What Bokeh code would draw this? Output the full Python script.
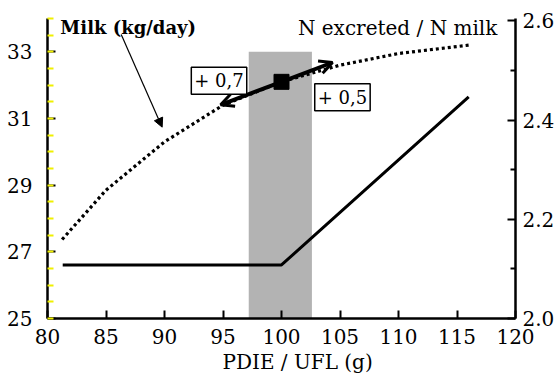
from bokeh.plotting import figure
from bokeh.models import (Range1d, LinearAxis, FixedTicker, Label, Arrow,
                          OpenHead, NormalHead, NumeralTickFormatter, Title)
from bokeh.embed import file_html
from bokeh.resources import INLINE

# ---- data ----
pdie_milk = [81.25, 85, 90, 95, 100, 105, 110, 116]
milk_kg = [27.37, 28.85, 30.3, 31.4, 32.1, 32.6, 32.95, 33.2]

pdie_n = [81.3, 100, 116]
n_ratio = [2.108, 2.108, 2.447]

band_left = [97.2]
band_right = [102.6]
band_bottom = [25]
band_top = [33]

point_x = [100]
point_y = [32.1]

x_ticks = [80, 85, 90, 95, 100, 105, 110, 115, 120]
left_ticks = [25, 27, 29, 31, 33]
left_minor = [25, 25.5, 26, 26.5, 27, 27.5, 28, 28.5, 29, 29.5, 30, 30.5, 31,
              31.5, 32, 32.5, 33, 33.5, 34]
right_ticks = [2.0, 2.2, 2.4, 2.6]
right_minor = [2.1, 2.3, 2.5]

arrow_left_end = (94.8, 31.41)
arrow_right_end = (104.36, 32.68)
thin_arrow = (86.3, 33.52, 89.8, 30.74)

FONT = "DejaVu Serif"

p = figure(width=560, height=378, output_backend="svg", toolbar_location=None,
           x_range=Range1d(80, 120), y_range=Range1d(25, 34),
           min_border_left=47, min_border_right=45, min_border_top=18,
           min_border_bottom=60)
p.outline_line_color = None
p.xgrid.visible = False
p.ygrid.visible = False
p.background_fill_color = "white"
p.border_fill_color = "white"

p.extra_y_ranges = {"right": Range1d(2.0, 2.605)}

# x axis
xa = p.xaxis[0]
xa.ticker = FixedTicker(ticks=x_ticks, minor_ticks=[])
xa.axis_line_width = 2.5
xa.major_tick_in = 8
xa.major_tick_out = 0
xa.major_tick_line_width = 2
xa.minor_tick_in = 0
xa.minor_tick_out = 0
xa.major_label_standoff = 10
xa.major_label_text_font = FONT
xa.major_label_text_font_size = "20px"
xa.major_label_text_color = "black"

p.add_layout(Title(text="PDIE / UFL (g)", align="left", offset=175,
                   standoff=3, text_font=FONT, text_font_size="20px",
                   text_font_style="normal", text_color="black"), "below")

# left axis
ya = p.yaxis[0]
ya.ticker = FixedTicker(ticks=left_ticks, minor_ticks=left_minor)
ya.axis_line_width = 2.5
ya.major_tick_in = 8
ya.major_tick_out = 0
ya.major_tick_line_width = 2
ya.minor_tick_in = 6
ya.minor_tick_out = 0
ya.minor_tick_line_color = "#f0f000"
ya.minor_tick_line_width = 2
ya.major_label_standoff = 15
ya.major_label_text_font = FONT
ya.major_label_text_font_size = "20px"
ya.major_label_text_color = "black"

# right axis
ra = LinearAxis(y_range_name="right",
                ticker=FixedTicker(ticks=right_ticks, minor_ticks=right_minor),
                formatter=NumeralTickFormatter(format="0.0"))
ra.axis_line_width = 2.5
ra.major_tick_in = 8
ra.major_tick_out = 0
ra.major_tick_line_width = 2
ra.minor_tick_in = 5
ra.minor_tick_out = 0
ra.minor_tick_line_width = 2
ra.major_label_standoff = 7
ra.major_label_text_font = FONT
ra.major_label_text_font_size = "20px"
ra.major_label_text_color = "black"
p.add_layout(ra, "right")

# band
p.quad(left=band_left, right=band_right, bottom=band_bottom, top=band_top,
       fill_color="#b3b3b3", line_color=None)

# milk dotted line
p.line(pdie_milk, milk_kg, line_color="black", line_width=3.2,
       line_dash="3 3")

# N excreted line
p.line(pdie_n, n_ratio, line_color="black", line_width=3,
       y_range_name="right")

# arrows
p.add_layout(Arrow(end=OpenHead(size=13, line_width=3, line_color="black"),
                   x_start=point_x[0], y_start=point_y[0],
                   x_end=arrow_left_end[0], y_end=arrow_left_end[1],
                   line_width=4, line_color="black"))
p.add_layout(Arrow(end=OpenHead(size=13, line_width=3, line_color="black"),
                   x_start=point_x[0], y_start=point_y[0],
                   x_end=arrow_right_end[0], y_end=arrow_right_end[1],
                   line_width=4, line_color="black"))
p.add_layout(Arrow(end=NormalHead(size=9, fill_color="black", line_color="black"),
                   x_start=thin_arrow[0], y_start=thin_arrow[1],
                   x_end=thin_arrow[2], y_end=thin_arrow[3],
                   line_width=1.2, line_color="black"))

# square point
p.scatter(point_x, point_y, marker="square", size=15, fill_color="black",
          line_color="black")

# texts
p.add_layout(Label(x=81.1, y=33.73, text="Milk (kg/day)", text_font=FONT,
                   text_font_size="18px", text_font_style="bold",
                   text_color="black",
                   text_baseline="alphabetic", text_align="left"))
p.add_layout(Label(x=118.45, y=33.73, text="N excreted / N milk", text_font=FONT,
                   text_font_size="20px", text_color="black",
                   text_baseline="alphabetic", text_align="right"))
p.add_layout(Label(x=94.66, y=32.13, text="+ 0,7", text_font=FONT,
                   text_font_size="18px", text_color="black",
                   text_baseline="middle", text_align="center", padding=3,
                   border_line_color="black", border_line_width=1.5,
                   background_fill_color="white"))
p.add_layout(Label(x=105.21, y=31.64, text="+ 0,5", text_font=FONT,
                   text_font_size="18px", text_color="black",
                   text_baseline="middle", text_align="center", padding=3,
                   border_line_color="black", border_line_width=1.5,
                   background_fill_color="white"))

open("out.html", "w").write(file_html(p, INLINE))
